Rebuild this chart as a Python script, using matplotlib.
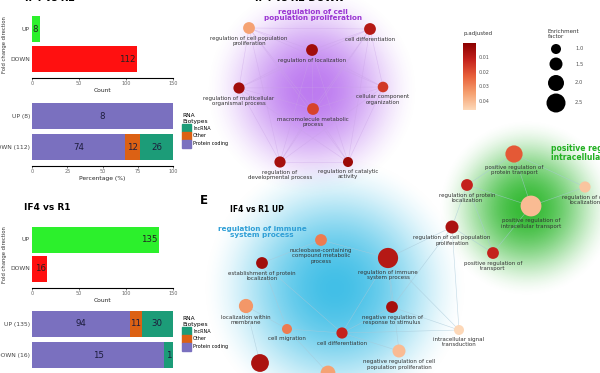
import numpy as np
import matplotlib.pyplot as plt
from matplotlib.colors import LinearSegmentedColormap, Normalize
from matplotlib.cm import ScalarMappable
from matplotlib.patches import Patch

W, H = 600, 373

# ---- bar panel data
directions = ["UP", "DOWN"]
counts_a = [8, 112]
counts_b = [135, 16]
biotypes = ["Protein coding", "Other", "lncRNA"]
bio_a_up = [8, 0, 0]
bio_a_down = [74, 12, 26]
bio_b_up = [94, 11, 30]
bio_b_down = [15, 0, 1]

# ---- network data (top: DOWN, bottom: IF4 vs R1 UP)
top_terms = ["regulation of cell population\nproliferation", "regulation of localization",
             "cell differentiation", "regulation of multicellular\norganismal process",
             "cellular component\norganization", "macromolecule metabolic\nprocess",
             "regulation of\ndevelopmental process", "regulation of catalytic\nactivity"]
top_padj = [0.035, 0.005, 0.009, 0.005, 0.016, 0.018, 0.006, 0.004]
top_ef = [1.3, 1.3, 1.3, 1.2, 1.1, 1.3, 1.2, 1.0]

bot_terms = ["nucleobase-containing\ncompound metabolic\nprocess",
             "establishment of protein\nlocalization", "regulation of immune\nsystem process",
             "localization within\nmembrane", "cell migration", "cell differentiation",
             "negative regulation of\nresponse to stimulus",
             "negative regulation of cell\npopulation proliferation", "", "",
             "positive regulation of\nprotein transport", "regulation of protein\nlocalization",
             "regulation of cell\nlocalization", "positive regulation of\nintracellular transport",
             "regulation of cell population\nproliferation", "positive regulation of\ntransport",
             "intracellular signal\ntransduction"]
bot_padj = [0.028, 0.005, 0.009, 0.033, 0.028, 0.012, 0.006, 0.040, 0.007, 0.035,
            0.022, 0.012, 0.042, 0.040, 0.007, 0.012, 0.046]
bot_ef = [1.3, 1.3, 2.7, 1.7, 1.0, 1.2, 1.3, 1.5, 2.3, 1.8,
          2.2, 1.3, 1.2, 2.8, 1.5, 1.3, 1.0]
ef_legend = [1.0, 1.5, 2.0, 2.5]
padj_ticks = [0.01, 0.02, 0.03, 0.04]

# layout (pixel positions)
top_xy = [(249, 28), (312, 50), (370, 29), (239, 88), (383, 87), (313, 109), (280, 162), (348, 162)]
bot_xy = [(321, 240), (262, 263), (388, 258), (246, 306), (287, 329), (342, 333), (392, 307),
          (399, 351), (260, 363), (328, 373), (514, 154), (467, 185), (585, 187), (531, 206),
          (452, 227), (493, 253), (459, 330)]
bot_edges = [(0, 2), (0, 1), (1, 4), (1, 5), (2, 5), (2, 6), (2, 7), (2, 14), (2, 16), (4, 5),
             (3, 4), (5, 6), (5, 7), (6, 16), (14, 16), (14, 11), (14, 15), (10, 11), (10, 13),
             (11, 13), (13, 12), (13, 15), (10, 12), (11, 15), (6, 14), (5, 16), (3, 8), (4, 9)]

dir_colors = ["#2cf02c", "#ff1010"]
bio_colors = ["#7a70bf", "#dc6114", "#1c9c78"]
cmap = LinearSegmentedColormap.from_list("padj", ["#8b0000", "#c4221c", "#e8603a", "#f5a070", "#fdd8b8"])
norm = Normalize(0.0005, 0.046)


def box(x0, y0, x1, y1):
    return [x0 / W, 1 - y1 / H, (x1 - x0) / W, (y1 - y0) / H]


def dot_size(ef):
    d = 10 + (np.asarray(ef) - 1) * 6
    return (d * 0.72) ** 2


fig = plt.figure(figsize=(6, 3.73), dpi=100)
bg = fig.add_axes([0, 0, 1, 1])
bg.set_xlim(0, W)
bg.set_ylim(H, 0)
bg.axis("off")


def glow(cx, cy, r, rgb, amax, p=2.2):
    t = np.linspace(-1, 1, 240)
    X, Y = np.meshgrid(t, t)
    d = np.sqrt(X ** 2 + Y ** 2)
    img = np.zeros((240, 240, 4))
    img[..., :3] = rgb
    img[..., 3] = amax * np.clip(1 - d ** 2, 0, 1) ** p
    bg.imshow(img, extent=(cx - r, cx + r, cy + r, cy - r), zorder=0, aspect="auto",
              interpolation="bilinear")


glow(312, 90, 108, (0.64, 0.28, 0.92), 0.72, 2.0)
glow(335, 288, 135, (0.05, 0.68, 0.88), 0.78, 2.0)
glow(527, 208, 90, (0.12, 0.70, 0.12), 0.9, 2.0)
bg.set_xlim(0, W)
bg.set_ylim(H, 0)


def bar_axes(up_c, down_c, axis_y, xmax, xticks, xlabel):
    s = down_c - up_c
    top = up_c - 0.6 * s
    ax = fig.add_axes(box(32, top, 173, axis_y))
    ax.set_facecolor("none")
    ax.set_ylim(-(axis_y - down_c) / s, 1.6)
    ax.set_xlim(0, xmax)
    for k in ["top", "right", "left"]:
        ax.spines[k].set_visible(False)
    ax.spines["bottom"].set_linewidth(0.8)
    ax.set_xticks(xticks)
    ax.tick_params(axis="x", labelsize=3.5, labelcolor="#666666", length=1.5, width=0.4, pad=1)
    ax.tick_params(axis="y", length=0, labelsize=4.3, labelcolor="#444444", pad=1.5)
    ax.set_xlabel(xlabel, fontsize=4.3, labelpad=1, color="#222222")
    return ax, 26 / s


def count_panel(up_c, down_c, axis_y, counts):
    ax, h = bar_axes(up_c, down_c, axis_y, 150, [0, 50, 100, 150], "Count")
    ax.barh([1, 0], counts, height=h, color=dir_colors)
    ax.set_yticks([1, 0], directions)
    for yy, v in zip([1, 0], counts):
        ax.text(v - 1.5, yy, str(v), ha="right", va="center", fontsize=6.2, color="#222222")
    ax.set_ylabel("Fold change direction", fontsize=3.8, color="#333333", labelpad=2)


def pct_panel(up_c, down_c, axis_y, up_vals, down_vals):
    ax, h = bar_axes(up_c, down_c, axis_y, 100, [0, 25, 50, 75, 100], "Percentage (%)")
    for yy, vals in zip([1, 0], [up_vals, down_vals]):
        tot = sum(vals)
        left = 0
        for v, c in zip(vals, bio_colors):
            w = v / tot * 100
            ax.barh(yy, w, left=left, height=h, color=c)
            if v > 0:
                ax.text(left + w / 2, yy, str(v), ha="center", va="center",
                        fontsize=6.2 if w > 5 else 4.5, color="#1c1c3c")
            left += w
    ax.set_yticks([1, 0], [f"UP ({sum(up_vals)})", f"DOWN ({sum(down_vals)})"])
    return ax


count_panel(29, 59, 78, counts_a)
pct_panel(116, 147, 166, bio_a_up, bio_a_down)
count_panel(239.5, 268.5, 288, counts_b)
pct_panel(324, 355, 378, bio_b_up, bio_b_down)

handles = [Patch(color=bio_colors[2], label="lncRNA"), Patch(color=bio_colors[1], label="Other"),
           Patch(color=bio_colors[0], label="Protein coding")]
for ly in [110, 313]:
    fig.legend(handles=handles, title="RNA\nBiotypes", loc="upper left",
               bbox_to_anchor=(179 / W, 1 - ly / H), frameon=False, fontsize=3.5,
               title_fontsize=4.2, handlelength=1.7, handleheight=2.1, labelspacing=0,
               handletextpad=0.5, alignment="left", borderpad=0.2)

# titles
fig.text(25 / W, 1 - 3 / H, "IF4 vs R2", fontsize=7, fontweight="bold", va="bottom")
fig.text(255 / W, 1 - 3 / H, "IF4 vs R2 DOWN", fontsize=7, fontweight="bold", va="bottom")
bg.text(24, 208, "IF4 vs R1", fontsize=6.5, fontweight="bold", va="center")
bg.text(200, 200, "E", fontsize=8.5, fontweight="bold", va="center")
bg.text(230, 210, "IF4 vs R1 UP", fontsize=5.5, fontweight="bold", va="center")

# top network
for i in range(len(top_xy)):
    for j in range(i + 1, len(top_xy)):
        bg.plot([top_xy[i][0], top_xy[j][0]], [top_xy[i][1], top_xy[j][1]],
                color="#c9a2e6", lw=0.4, alpha=0.5, zorder=1)
tx, ty = zip(*top_xy)
bg.scatter(tx, ty, s=dot_size(top_ef), c=top_padj, cmap=cmap, norm=norm, zorder=3, linewidths=0)
for (x, y), lab, ef in zip(top_xy, top_terms, top_ef):
    bg.text(x, y + (10 + (ef - 1) * 6) / 2 + 2, lab, ha="center", va="top", fontsize=4,
            color="#333333", linespacing=1.1, zorder=4)
bg.text(313, 15, "regulation of cell\npopulation proliferation", ha="center", va="center",
        fontsize=5.2, fontweight="bold", color="#9a35d2", linespacing=1.0, zorder=4)

# bottom network
for i, j in bot_edges:
    bg.plot([bot_xy[i][0], bot_xy[j][0]], [bot_xy[i][1], bot_xy[j][1]],
            color="#a8c8d8", lw=0.4, alpha=0.7, zorder=1)
bx, by = zip(*bot_xy)
bg.scatter(bx, by, s=dot_size(bot_ef), c=bot_padj, cmap=cmap, norm=norm, zorder=3, linewidths=0)
for (x, y), lab, ef in zip(bot_xy, bot_terms, bot_ef):
    bg.text(x, y + (10 + (ef - 1) * 6) / 2 + 2, lab, ha="center", va="top", fontsize=4,
            color="#333333", linespacing=1.1, zorder=4)
bg.text(262, 232, "regulation of immune\nsystem process", ha="center", va="center",
        fontsize=5.2, fontweight="bold", color="#2f9fd6", linespacing=1.0, zorder=4)
bg.text(551, 153, "positive regulation of\nintracellular transport", ha="left", va="center",
        fontsize=5.5, fontweight="bold", color="#22b022", linespacing=1.0, zorder=4)

# p.adjusted colour bar
cax = fig.add_axes(box(463, 43, 476, 110))
cb = fig.colorbar(ScalarMappable(norm=norm, cmap=cmap), cax=cax)
cax.invert_yaxis()
cb.outline.set_visible(False)
cb.set_ticks(padj_ticks)
cax.tick_params(length=0, labelsize=3.5, labelcolor="#555555", pad=2)
bg.text(463, 34, "p.adjusted", fontsize=4, color="#333333", va="center")

# enrichment factor legend
ly = [49, 64, 83, 103]
bg.scatter([556] * 4, ly, s=dot_size(ef_legend), color="black", zorder=3, linewidths=0)
for y, v in zip(ly, ef_legend):
    bg.text(575, y, f"{v:.1f}", fontsize=3.8, color="#555555", va="center")
bg.text(548, 34, "Enrichment\nfactor", fontsize=4, color="#333333", va="center", linespacing=1.2)

fig.savefig("out.png", dpi=100)
